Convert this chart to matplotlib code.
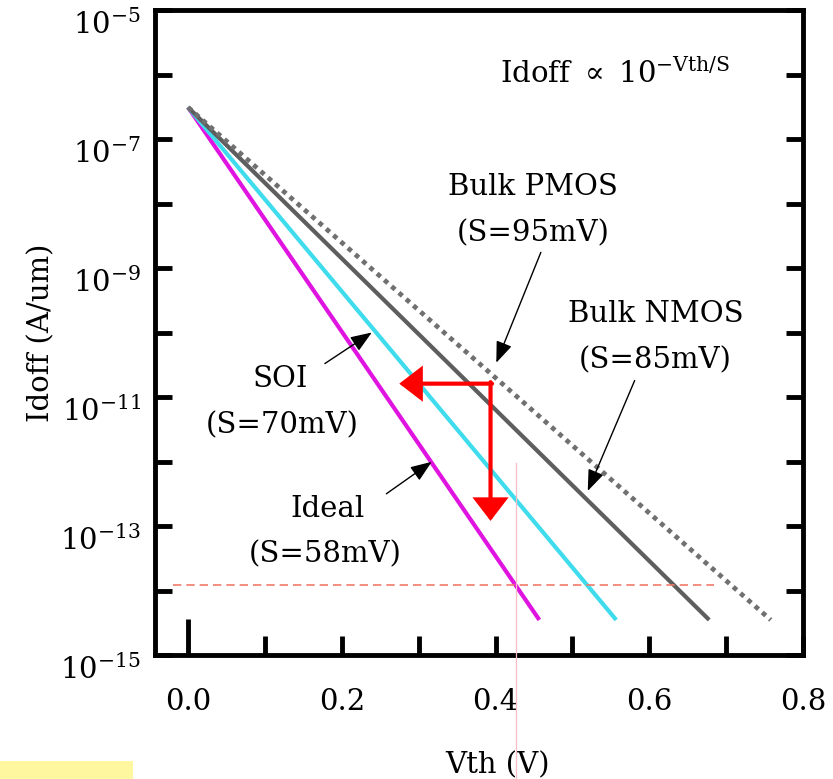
import numpy as np
import matplotlib
matplotlib.use('Agg')
import matplotlib.pyplot as plt
from matplotlib.patches import Rectangle
from matplotlib.transforms import ScaledTranslation
from matplotlib.ticker import NullFormatter

plt.rcParams['font.family'] = ['DejaVu Serif']
plt.rcParams['mathtext.fontset'] = 'dejavuserif'

# Straight lines on a log axis: start and end points
curve_names = ['Ideal', 'SOI', 'Bulk NMOS', 'Bulk PMOS']
slope_labels = ['(S=58mV)', '(S=70mV)', '(S=85mV)', '(S=95mV)']
vth_start = [0.0, 0.0, 0.0, 0.0]
vth_end = [0.457, 0.557, 0.678, 0.758]
idoff_start = [3.1e-7, 3.1e-7, 3.1e-7, 3.1e-7]
idoff_end = [3.5e-15, 3.5e-15, 3.5e-15, 3.5e-15]

# guide lines
target_idoff = 1.2e-14
target_vth = 0.427

xticks = [0.0, 0.2, 0.4, 0.6, 0.8]
xticks_minor = [0.1, 0.3, 0.5, 0.7]
xticklabels = ['0.0', '0.2', '0.4', '0.6', '0.8']
ytick_exps = [-15, -13, -11, -9, -7, -5]
ytick_minor_exps = [-14, -12, -10, -8, -6]

colors = ['#e014e0', '#3edcec', '#5e5e5e', '#707070']

fig = plt.figure(figsize=(8.33, 7.79), dpi=100)
ax = fig.add_axes([155 / 833, 1 - 655 / 779, 648 / 833, 645 / 779])

for i in range(4):
    line, = ax.plot([vth_start[i], vth_end[i]], [idoff_start[i], idoff_end[i]],
                    color=colors[i], lw=3.0, solid_capstyle='butt')
    if curve_names[i] == 'Bulk PMOS':
        line.set_linewidth(3.4)
        line.set_dashes((1.0, 1.05))
        line.set_dash_capstyle('butt')

ax.set_yscale('log')
ax.set_xlim(-0.043, 0.799)
ax.set_ylim(1e-15, 1e-5)

# red dashed level and pink vertical marker
ax.plot([-0.019, 0.684], [target_idoff, target_idoff], color='#f07a6a', lw=1.2,
        dashes=(5, 3))
ax.plot([target_vth, target_vth], [9.5e-13, 1.1e-17], color='#f6bcc6', lw=0.9,
        clip_on=False, zorder=5)

# red L-shaped arrows
red = dict(arrowstyle='-|>,head_length=13,head_width=10', color='#ff0000', lw=3.0,
           shrinkA=0, shrinkB=0, mutation_scale=1, joinstyle='miter')
ax.annotate('', xy=(0.2748, 1.61e-11), xytext=(0.3955, 1.61e-11), arrowprops=red)
ax.annotate('', xy=(0.3935, 1.2e-13), xytext=(0.3935, 1.7e-11), arrowprops=red)

# labels with thin black arrows
blk = dict(arrowstyle='-|>,head_length=13,head_width=5', color='black', lw=1.0,
           shrinkA=0, shrinkB=0, mutation_scale=1)
fs = 21
ax.text(0.449, 1.79e-8, 'Bulk PMOS', fontsize=fs, ha='center', va='center')
ax.text(0.449, 3.44e-9, slope_labels[3], fontsize=fs, ha='center', va='center')
ax.annotate('', xy=(0.401, 3.4e-11), xytext=(0.459, 1.75e-9), arrowprops=blk)

ax.text(0.608, 1.97e-10, 'Bulk NMOS', fontsize=fs, ha='center', va='center')
ax.text(0.608, 3.67e-11, slope_labels[2], fontsize=fs, ha='center', va='center')
ax.annotate('', xy=(0.520, 3.5e-13), xytext=(0.581, 1.8e-11), arrowprops=blk)

ax.text(0.120, 1.93e-11, 'SOI', fontsize=fs, ha='center', va='center')
ax.text(0.1226, 3.6e-12, slope_labels[1], fontsize=fs, ha='center', va='center')
ax.annotate('', xy=(0.239, 1.0e-10), xytext=(0.178, 3.3e-11), arrowprops=blk)

ax.text(0.182, 1.85e-13, 'Ideal', fontsize=fs, ha='center', va='center')
ax.text(0.179, 3.7e-14, slope_labels[0], fontsize=fs, ha='center', va='center')
ax.annotate('', xy=(0.317, 9.9e-13), xytext=(0.258, 3.16e-13), arrowprops=blk)

ax.text(0.406, 7.3e-7, r'Idoff $\propto$ 10$^{\mathrm{-Vth/S}}$', fontsize=fs,
        ha='left', va='baseline')

# axes frame and ticks
for sp in ax.spines.values():
    sp.set_linewidth(3.5)

ax.set_xticks(xticks)
ax.set_xticks(xticks_minor, minor=True)
ax.set_xticklabels(xticklabels, fontsize=fs)
ax.tick_params(axis='x', which='both', direction='in', length=13.5, width=3.5,
               top=False, pad=24)
ax.xaxis.get_major_ticks()[0].tick1line.set_markersize(26)

ax.set_yticks([10.0 ** e for e in ytick_exps])
ax.set_yticks([10.0 ** e for e in ytick_minor_exps], minor=True)
ax.set_yticklabels([r'$10^{%d}$' % e for e in ytick_exps], fontsize=fs)
ax.yaxis.set_minor_formatter(NullFormatter())
ax.tick_params(axis='y', which='both', direction='in', length=12, width=3.5,
               left=True, right=True, labelright=False, pad=10)
shift = ScaledTranslation(0, -12 / 100, fig.dpi_scale_trans)
for lab in ax.get_yticklabels():
    lab.set_transform(lab.get_transform() + shift)

ax.set_xlabel('Vth (V)', fontsize=fs, va='center')
ax.xaxis.set_label_coords(0.529, -0.1705)
ax.set_ylabel('Idoff (A/um)', fontsize=fs, va='center')
ax.yaxis.set_label_coords(-0.175, 0.5)

# yellow strip in the lower left corner
fig.add_artist(Rectangle((0, 0), 133 / 833, 18 / 779, transform=fig.transFigure,
                         color='#fff6a0', lw=0))

fig.savefig('out.png', dpi=100)
